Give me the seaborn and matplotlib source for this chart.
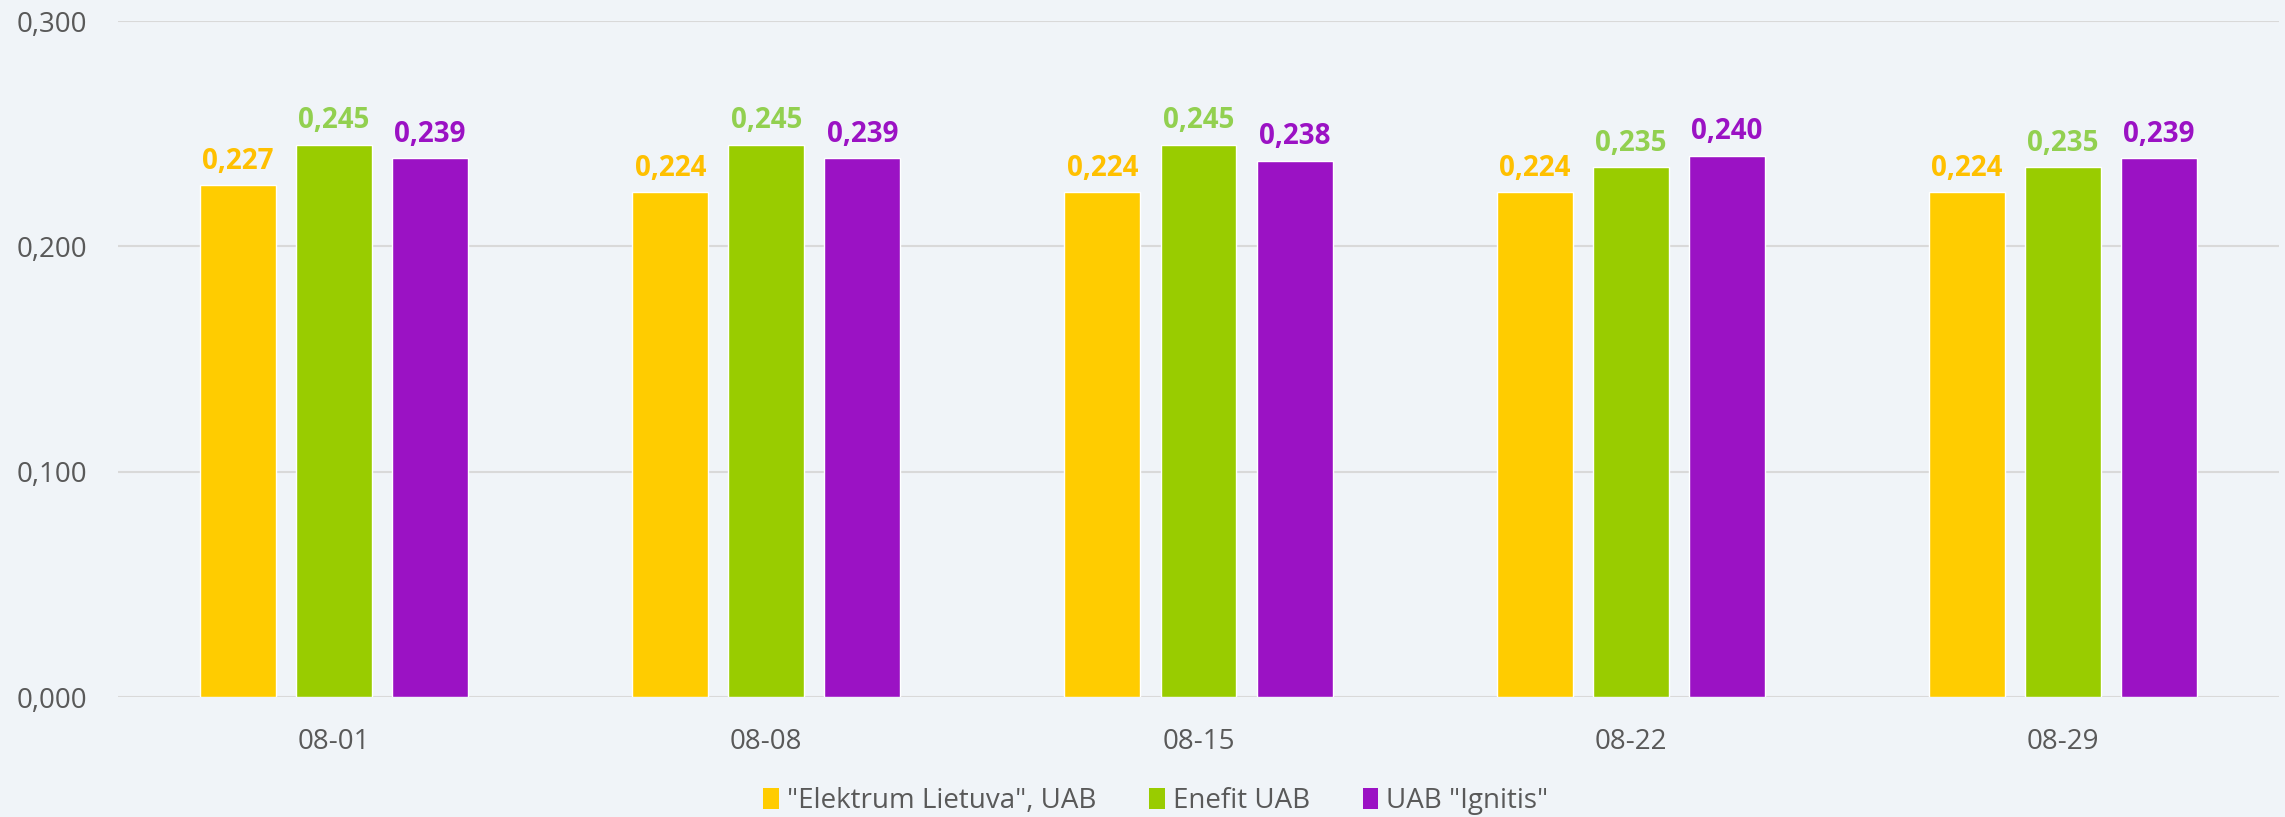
import matplotlib
matplotlib.use("Agg")
import matplotlib.pyplot as plt
import seaborn as sns
import pandas as pd
from matplotlib.patches import Patch

dates = ["08-01", "08-08", "08-15", "08-22", "08-29"]
series_names = ['"Elektrum Lietuva", UAB', 'Enefit UAB', 'UAB "Ignitis"']
elektrum = [0.227, 0.224, 0.224, 0.224, 0.224]
enefit = [0.245, 0.245, 0.245, 0.235, 0.235]
ignitis = [0.239, 0.239, 0.238, 0.240, 0.239]
yticks = [0.0, 0.1, 0.2, 0.3]

bar_colors = ["#FFCC00", "#99CC00", "#9B12C4"]
label_colors = ["#FFC000", "#92D050", "#9B12C4"]
bg = "#F0F4F8"

rows = []
for name, vals in zip(series_names, [elektrum, enefit, ignitis]):
    for d, v in zip(dates, vals):
        rows.append({"date": d, "series": name, "value": v})
df = pd.DataFrame(rows)

sns.set_theme(style="white")
plt.rcParams["font.family"] = ["Open Sans", "DejaVu Sans"]

W, H = 2285, 817
fig = plt.figure(figsize=(W / 100, H / 100), dpi=100, facecolor=bg)
ax = fig.add_axes([118 / W, (H - 697) / H, (2279 - 118) / W, (697 - 21) / H])
ax.set_facecolor(bg)

sns.barplot(data=df, x="date", y="value", hue="series", order=dates,
            hue_order=series_names, palette=bar_colors, width=0.667, gap=0.21,
            ax=ax, legend=False, saturation=1, errorbar=None)

for cont, col in zip(ax.containers, label_colors):
    labels = [f"{b.get_height():.3f}".replace(".", ",") for b in cont]
    ax.bar_label(cont, labels=labels, padding=7, color=col, fontsize=20,
                 fontweight="bold")

ax.set_ylim(0, 0.3)
ax.set_xlim(-0.5, 4.5)
ax.set_yticks(yticks)
ax.set_yticklabels([f"{t:.3f}".replace(".", ",") for t in yticks])
ax.yaxis.grid(True, color="#D9D9D9", linewidth=1.5)
ax.set_axisbelow(True)
for s in ax.spines.values():
    s.set_visible(False)
ax.tick_params(axis="both", length=0, labelsize=20, labelcolor="#595959")
ax.tick_params(axis="y", pad=22)
ax.tick_params(axis="x", pad=22)
ax.set_xlabel("")
ax.set_ylabel("")

handles = [Patch(facecolor=c, edgecolor="none") for c in bar_colors]
fig.legend(handles, series_names, loc="center", bbox_to_anchor=(1156 / W, 1 - 801 / H),
           ncol=3, frameon=False, fontsize=20, labelcolor="#595959",
           handlelength=0.55, handleheight=0.8, handletextpad=0.3, columnspacing=1.9)

fig.savefig("out.png", dpi=100, facecolor=bg)
